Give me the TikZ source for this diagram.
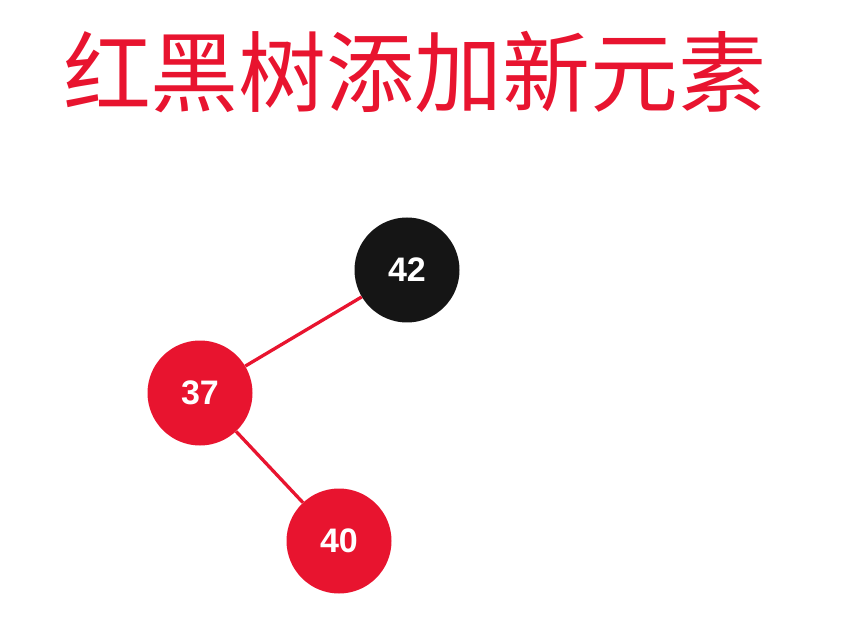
\documentclass[tikz,border=0pt]{standalone}
\usepackage{fontspec}
\setmainfont{Liberation Sans}
\newfontfamily\cjk{Noto Sans CJK SC}
\definecolor{rbred}{HTML}{E8142F}
\definecolor{rbblack}{HTML}{151515}
\begin{document}
\begin{tikzpicture}[x=1pt,y=-1pt,
  treenode/.style={circle,minimum size=105pt,inner sep=0pt,text=white,font=\fontsize{34}{34}\selectfont\bfseries},
  rednode/.style={treenode,fill=rbred},
  blacknode/.style={treenode,fill=rbblack},
  edge/.style={draw=rbred,line width=3.3pt}]
\useasboundingbox (0,0) rectangle (852,639);
\node[text=rbred,font=\cjk\fontsize{88}{88}\selectfont,anchor=center] (title) at (415,72) {红黑树添加新元素};
\node[blacknode] (n42) at (407,270) {42};
\node[rednode] (n37) at (200,393) {37};
\node[rednode] (n40) at (339,541) {40};
\draw[edge] (n42) -- (n37);
\draw[edge] (n37) -- (n40);
\end{tikzpicture}
\end{document}
